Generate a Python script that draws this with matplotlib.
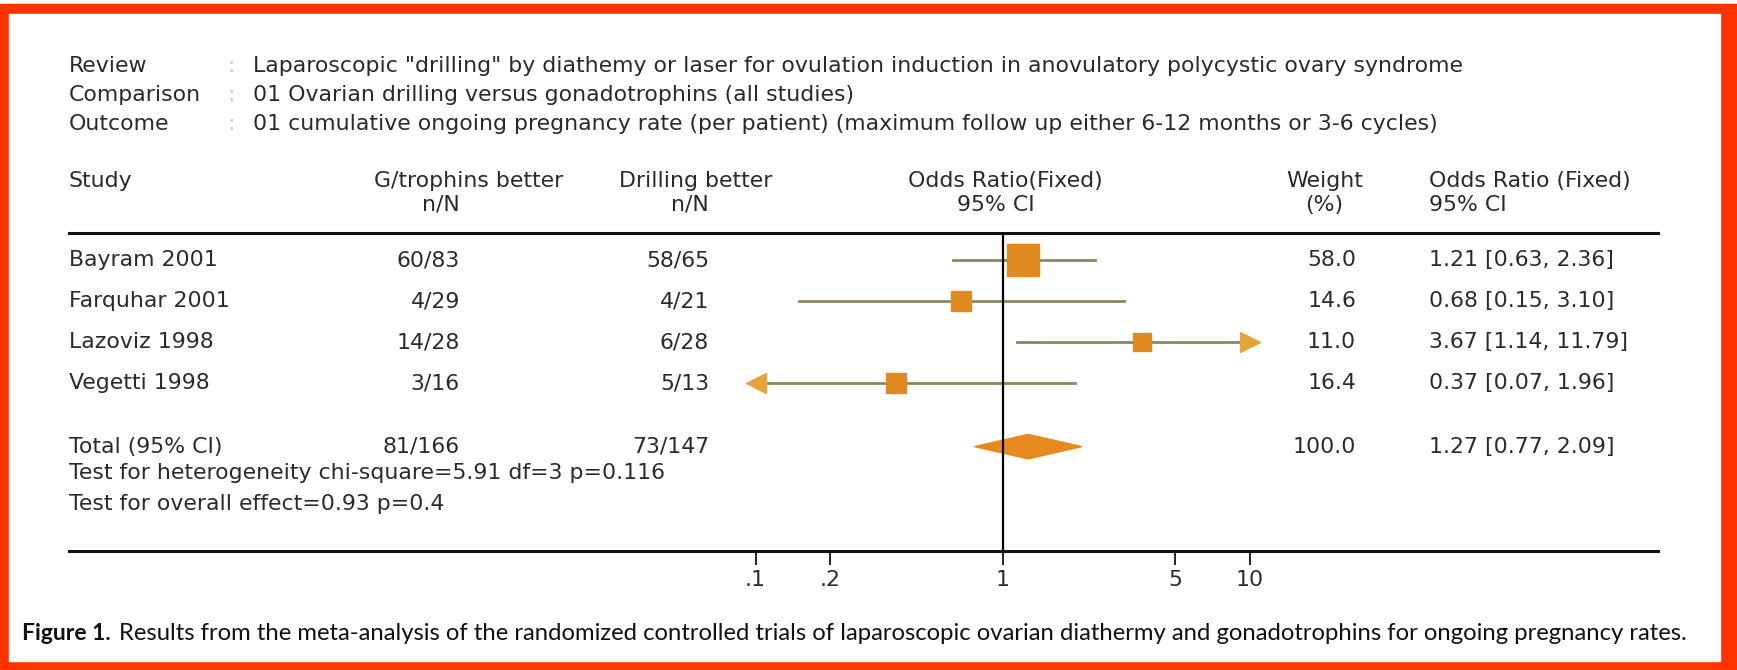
import matplotlib
matplotlib.use('Agg')
import matplotlib.pyplot as plt
from matplotlib import transforms
from matplotlib.patches import Rectangle, Polygon

plt.rcParams['font.family'] = ['DejaVu Sans']

# ---------------------------------------------------------------- data
info_keys = ['Review', 'Comparison', 'Outcome']
info_vals = ['Laparoscopic "drilling" by diathemy or laser for ovulation induction in anovulatory polycystic ovary syndrome',
             '01 Ovarian drilling versus gonadotrophins (all studies)',
             '01 cumulative ongoing pregnancy rate (per patient) (maximum follow up either 6-12 months or 3-6 cycles)']

studies = ['Bayram 2001', 'Farquhar 2001', 'Lazoviz 1998', 'Vegetti 1998']
gtroph = ['60/83', '4/29', '14/28', '3/16']
drill = ['58/65', '4/21', '6/28', '5/13']
weight = [58.0, 14.6, 11.0, 16.4]
odds = [1.21, 0.68, 3.67, 0.37]
ci_lo = [0.63, 0.15, 1.14, 0.07]
ci_hi = [2.36, 3.10, 11.79, 1.96]

total_label = 'Total (95% CI)'
total_gtroph = '81/166'
total_drill = '73/147'
total_weight = 100.0
total_or, total_lo, total_hi = 1.27, 0.77, 2.09

het_text = 'Test for heterogeneity chi-square=5.91 df=3 p=0.116'
eff_text = 'Test for overall effect=0.93 p=0.4'

tick_vals = [0.1, 0.2, 1, 5, 10]
tick_labels = ['.1', '.2', '1', '5', '10']
plot_min, plot_max = 0.1, 10   # RevMan display range, CIs beyond get arrows

caption_bold = 'Figure 1.'
caption_rest = ('Results from the meta-analysis of the randomized controlled trials of '
                'laparoscopic ovarian diathermy and gonadotrophins for ongoing pregnancy rates.')

# ---------------------------------------------------------------- layout
W, H = 1737, 670
fig = plt.figure(figsize=(W / 100, H / 100), dpi=100)
bg = fig.add_axes([0, 0, 1, 1])
bg.set_xlim(0, W)
bg.set_ylim(H, 0)
bg.axis('off')

# red frame
bg.add_patch(Rectangle((0, 4), W, H - 4, color='#ff3300', zorder=0))
bg.add_patch(Rectangle((9, 14), 1711, 647, color='white', zorder=1))

tab_l, tab_r = 69, 1658
line_top, line_bot = 233, 551
ax = fig.add_axes([tab_l / W, (H - line_bot) / H, (tab_r - tab_l) / W, (line_bot - line_top) / H])
ax.patch.set_visible(False)
ax.set_xscale('log')
one_px, decade = 1002.6, 247.0
ax.set_xlim(10 ** ((tab_l - one_px) / decade), 10 ** ((tab_r - one_px) / decade))

row_y = [0, 1, 2, 3]
total_y = 4.55
het_y, eff_y = 5.2, 5.95
ax.set_ylim(7.1, -0.67)

txt = '#2a2a2a'
fs = 15.8

# header info block
for i, (k, v) in enumerate(zip(info_keys, info_vals)):
    y = 66 + i * 29
    bg.text(tab_l, y, k, fontsize=fs, color=txt, va='center', zorder=3)
    bg.text(227, y, ':', fontsize=fs, color='#c8c8c8', va='center', zorder=3)
    bg.text(253, y, v, fontsize=fs, color=txt, va='center', zorder=3)

# column headers
hy1, hy2 = 181, 205
bg.text(tab_l, hy1, 'Study', fontsize=fs, color=txt, va='center', zorder=3)
bg.text(469, hy1, 'G/trophins better', fontsize=fs, color=txt, va='center', ha='center', zorder=3)
bg.text(460, hy2, 'n/N', fontsize=fs, color=txt, va='center', ha='right', zorder=3)
bg.text(696, hy1, 'Drilling better', fontsize=fs, color=txt, va='center', ha='center', zorder=3)
bg.text(709, hy2, 'n/N', fontsize=fs, color=txt, va='center', ha='right', zorder=3)
bg.text(1005, hy1, 'Odds Ratio(Fixed)', fontsize=fs, color=txt, va='center', ha='center', zorder=3)
bg.text(996, hy2, '95% CI', fontsize=fs, color=txt, va='center', ha='center', zorder=3)
bg.text(1325, hy1, 'Weight', fontsize=fs, color=txt, va='center', ha='center', zorder=3)
bg.text(1324, hy2, '(%)', fontsize=fs, color=txt, va='center', ha='center', zorder=3)
bg.text(1429, hy1, 'Odds Ratio (Fixed)', fontsize=fs, color=txt, va='center', zorder=3)
bg.text(1429, hy2, '95% CI', fontsize=fs, color=txt, va='center', zorder=3)

# table rows: x in pixels, y in forest-axis rows
tr = transforms.blended_transform_factory(bg.transData, ax.transData)
for y, s, g, d, w, o, l, h in zip(row_y, studies, gtroph, drill, weight, odds, ci_lo, ci_hi):
    ax.text(tab_l, y, s, transform=tr, fontsize=fs, color=txt, va='center')
    ax.text(460, y, g, transform=tr, fontsize=fs, color=txt, va='center', ha='right')
    ax.text(709, y, d, transform=tr, fontsize=fs, color=txt, va='center', ha='right')
    ax.text(1356, y, f'{w:.1f}', transform=tr, fontsize=fs, color=txt, va='center', ha='right')
    ax.text(1429, y, f'{o:.2f} [{l:.2f}, {h:.2f}]', transform=tr, fontsize=fs, color=txt, va='center')

ax.text(tab_l, total_y, total_label, transform=tr, fontsize=fs, color=txt, va='center')
ax.text(460, total_y, total_gtroph, transform=tr, fontsize=fs, color=txt, va='center', ha='right')
ax.text(709, total_y, total_drill, transform=tr, fontsize=fs, color=txt, va='center', ha='right')
ax.text(1356, total_y, f'{total_weight:.1f}', transform=tr, fontsize=fs, color=txt, va='center', ha='right')
ax.text(1429, total_y, f'{total_or:.2f} [{total_lo:.2f}, {total_hi:.2f}]', transform=tr,
        fontsize=fs, color=txt, va='center')
ax.text(tab_l, het_y, het_text, transform=tr, fontsize=fs, color=txt, va='center')
ax.text(tab_l, eff_y, eff_text, transform=tr, fontsize=fs, color=txt, va='center')

# forest marks
line_c = '#8c8660'
box_c = '#e08a22'
arrow_c = '#e3a53a'
for y, w, o, l, h in zip(row_y, weight, odds, ci_lo, ci_hi):
    ax.plot([max(l, plot_min), min(h, plot_max)], [y, y], color=line_c, lw=2.0, zorder=2)
    side = 7 + 3.4 * w ** 0.5           # box side in px
    ax.plot(o, y, marker='s', ms=side * 0.72, color=box_c, mec=box_c, zorder=3)
    if h > plot_max:
        ax.plot(plot_max, y, marker='>', ms=15, color=arrow_c, mec=arrow_c, zorder=3)
    if l < plot_min:
        ax.plot(plot_min, y, marker='<', ms=15, color=arrow_c, mec=arrow_c, zorder=3)

dh = 0.3
ax.add_patch(Polygon([(total_lo, total_y), (total_or, total_y - dh), (total_hi, total_y),
                      (total_or, total_y + dh)], closed=True, color='#e68a1f', zorder=3))

ax.axvline(1, color='black', lw=1.6, zorder=4)

# axis styling: top/bottom rules of the table
for sp in ['left', 'right']:
    ax.spines[sp].set_visible(False)
for sp in ['top', 'bottom']:
    ax.spines[sp].set_linewidth(2.2)
    ax.spines[sp].set_color('#111111')
ax.set_yticks([])
ax.set_xticks(tick_vals)
ax.set_xticklabels(tick_labels)
ax.xaxis.set_minor_locator(matplotlib.ticker.NullLocator())
ax.tick_params(axis='x', direction='out', length=10, width=1.2, pad=4, labelsize=fs, labelcolor=txt)

# caption
cap_y = 634
t1 = bg.text(22, cap_y, caption_bold, fontsize=16.5, fontweight='bold', family='Lato', color='#111111',
             va='center', zorder=3)
fig.canvas.draw()
bb = t1.get_window_extent(renderer=fig.canvas.get_renderer())
bg.text(bb.x1 + 8, cap_y, caption_rest, fontsize=17.2, family='Lato', color='#111111', va='center', zorder=3)

fig.savefig('out.png', dpi=100)
